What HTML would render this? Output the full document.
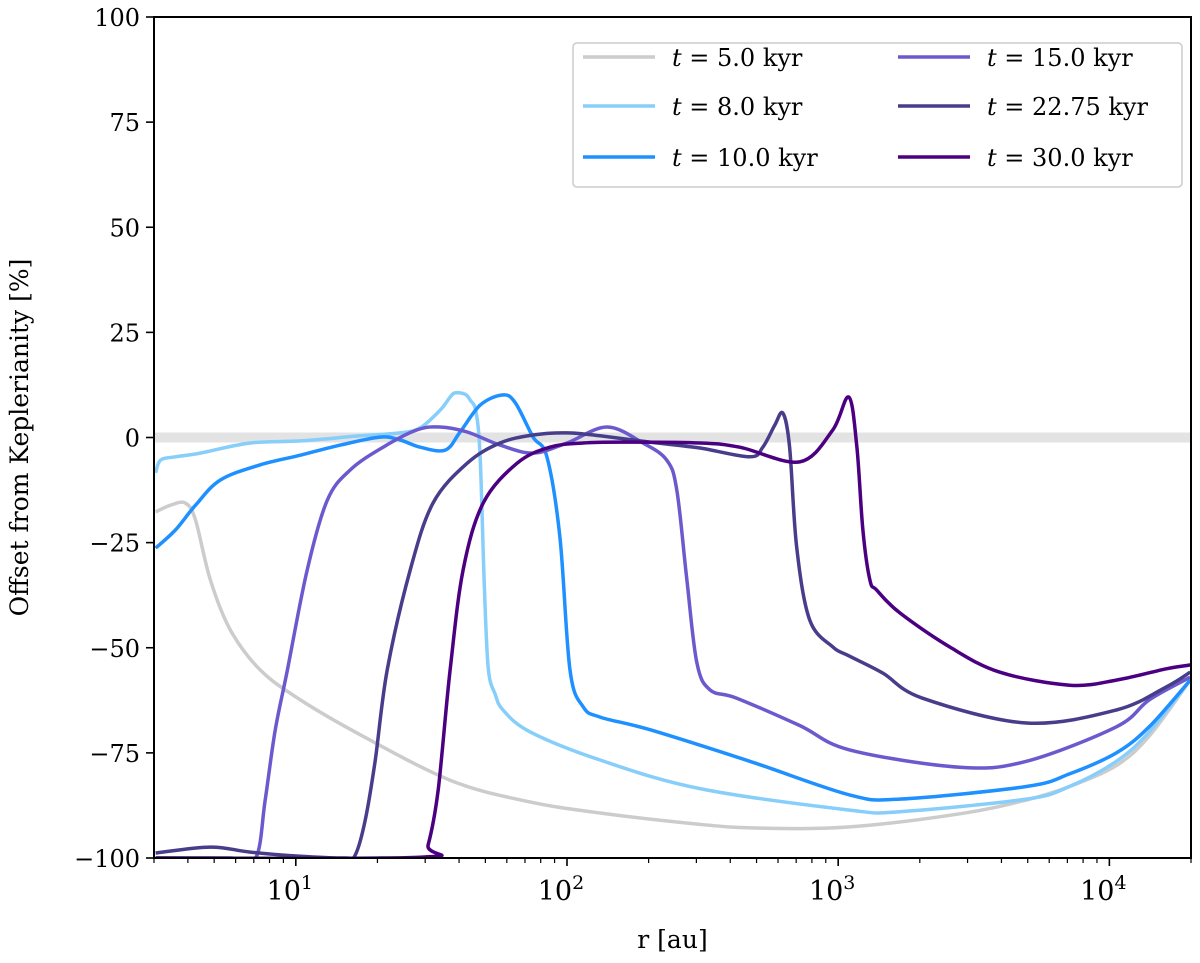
<!DOCTYPE html>
<html><head><meta charset="utf-8"><style>
body{margin:0;background:#fff;}
svg text{font-family:"DejaVu Serif","Liberation Serif",serif;fill:#000;}
</style></head><body>
<svg id="chart" width="1200" height="958" viewBox="0 0 1200 958" xmlns="http://www.w3.org/2000/svg"></svg>
<script>
const xTicksMajor=[1,2,3,4];
const yTicks=[-100,-75,-50,-25,0,25,50,75,100];
const seriesLabels=["5.0","8.0","10.0","15.0","22.75","30.0"];
const seriesColors=["#cccccc","#87cefa","#1e90ff","#6a5acd","#483d8b","#4b0082"];
const logR_t5=[0.483,0.538,0.593,0.630,0.685,0.759,0.869,1.017,1.238,1.569,1.850,2.122,2.490,2.711,3.042,3.448,3.694,3.853,4.026,4.147,4.298];
const val_t5=[-17.7,-16.1,-15.6,-19.6,-33.9,-45.8,-55.3,-62.4,-70.7,-81.5,-86.5,-89.3,-92.0,-92.9,-92.6,-89.5,-86.2,-83.0,-78.0,-71.0,-57.7];
const logR_t8=[0.483,0.501,0.556,0.648,0.832,1.017,1.238,1.385,1.459,1.532,1.569,1.587,1.624,1.643,1.665,1.680,1.695,1.710,1.735,1.764,1.864,2.122,2.490,3.042,3.227,3.694,3.853,4.026,4.147,4.298];
const val_t8=[-8.4,-5.4,-4.6,-3.7,-1.3,-0.8,0.4,1.1,2.3,6.5,9.6,10.6,10.3,8.9,6.0,-5.0,-35.0,-55.0,-61.0,-64.8,-70.0,-76.7,-83.5,-88.6,-89.0,-86.0,-83.0,-77.0,-70.0,-57.7];
const logR_t10=[0.483,0.556,0.630,0.722,0.869,1.017,1.164,1.311,1.385,1.459,1.551,1.606,1.680,1.761,1.808,1.875,1.926,1.974,2.011,2.059,2.122,2.306,2.674,3.042,3.227,3.694,3.853,4.026,4.147,4.298];
const val_t10=[-26.3,-22.0,-16.1,-10.1,-6.5,-4.2,-1.8,0.1,-0.6,-2.3,-3.0,1.3,7.7,10.1,8.4,0.1,-4.6,-23.7,-55.3,-64.0,-66.5,-69.5,-77.0,-85.0,-86.0,-83.0,-80.0,-75.0,-68.8,-57.7];
const logR_t15=[0.483,0.759,0.852,0.887,0.924,0.969,1.042,1.116,1.201,1.322,1.447,1.532,1.632,1.753,1.875,2.000,2.147,2.280,2.368,2.405,2.442,2.479,2.527,2.626,2.858,3.042,3.448,3.694,4.026,4.147,4.298];
const val_t15=[-100,-100,-100,-86.2,-69.6,-55.3,-31.5,-14.9,-7.7,-2.3,1.8,2.5,1.3,-1.8,-3.7,-1.3,2.5,-1.3,-5.4,-12.5,-33.9,-53.6,-60.0,-62.0,-68.5,-74.3,-78.4,-77.0,-68.8,-62.4,-57.0];
const logR_t22=[0.483,0.685,0.832,1.017,1.182,1.219,1.256,1.293,1.337,1.422,1.506,1.632,1.753,1.875,2.000,2.122,2.306,2.490,2.674,2.722,2.766,2.796,2.821,2.847,2.895,2.980,3.042,3.164,3.311,3.694,4.026,4.210,4.298];
const val_t22=[-98.8,-97.4,-98.6,-99.6,-100,-99.3,-91.0,-76.7,-55.3,-31.5,-15.6,-6.1,-1.3,0.6,1.1,0.4,-1.1,-2.5,-4.6,-2.3,2.9,5.8,-2.3,-26.1,-43.4,-49.8,-52.0,-56.0,-62.0,-67.9,-64.8,-59.3,-55.8];
const logR_t30=[0.483,1.459,1.488,1.525,1.569,1.617,1.691,1.816,1.937,2.059,2.195,2.490,2.637,2.858,2.980,3.039,3.069,3.091,3.117,3.142,3.227,3.411,3.595,3.853,4.026,4.210,4.298];
const val_t30=[-100,-99.8,-96.9,-83.8,-55.3,-31.5,-15.6,-6.1,-2.3,-1.3,-1.1,-1.3,-2.3,-5.8,1.8,9.6,-2.3,-22.0,-33.9,-36.3,-41.7,-49.8,-55.8,-58.9,-57.7,-55.0,-54.1];

const svg=document.getElementById('chart');
const NS='http://www.w3.org/2000/svg';
const L=154,R=1191,T=17,B=858;
const xMinL=Math.log10(3),xMaxL=Math.log10(2e4);
function xs(logr){return L+(logr-xMinL)/(xMaxL-xMinL)*(R-L);}
function ys(v){return B-(v+100)/200*(B-T);}
function mk(tag,attrs){const e=document.createElementNS(NS,tag);for(const k in attrs)e.setAttribute(k,attrs[k]);svg.appendChild(e);return e;}

const defs=document.createElementNS(NS,'defs');
defs.innerHTML='<clipPath id="clip"><rect x="'+L+'" y="'+T+'" width="'+(R-L)+'" height="'+(B-T)+'"/></clipPath>';
svg.appendChild(defs);

const zl=mk('line',{x1:L,x2:R,y1:ys(0),y2:ys(0),stroke:'#e3e3e3','stroke-width':10});



function smooth(pts){
  let d='M'+pts[0][0].toFixed(1)+','+pts[0][1].toFixed(1);
  for(let i=0;i<pts.length-1;i++){
    const p0=pts[Math.max(0,i-1)],p1=pts[i],p2=pts[i+1],p3=pts[Math.min(pts.length-1,i+2)];
    const c1x=p1[0]+(p2[0]-p0[0])/6,c1y=p1[1]+(p2[1]-p0[1])/6;
    const c2x=p2[0]-(p3[0]-p1[0])/6,c2y=p2[1]-(p3[1]-p1[1])/6;
    d+='C'+c1x.toFixed(1)+','+c1y.toFixed(1)+' '+c2x.toFixed(1)+','+c2y.toFixed(1)+' '+p2[0].toFixed(1)+','+p2[1].toFixed(1);
  }
  return d;
}
const allR=[logR_t5,logR_t8,logR_t10,logR_t15,logR_t22,logR_t30];
const allV=[val_t5,val_t8,val_t10,val_t15,val_t22,val_t30];
const names=['line-t5','line-t8','line-t10','line-t15','line-t22-75','line-t30'];
for(let s=0;s<6;s++){
  const pts=allR[s].map((lr,i)=>[xs(lr),ys(allV[s][i])]);
  const p=mk('path',{d:smooth(pts),fill:'none',stroke:seriesColors[s],'stroke-width':3.5,'stroke-linejoin':'round','clip-path':'url(#clip)'});
  
  
}

const fr=mk('rect',{x:L,y:T,width:R-L,height:B-T,fill:'none',stroke:'#000','stroke-width':2});



for(let d=0;d<=4;d++){
  for(let m=1;m<10;m++){
    const lr=d+Math.log10(m);
    if(lr<xMinL-1e-9||lr>xMaxL+1e-9)continue;
    const x=xs(lr);
    const tk=mk('line',{x1:x,x2:x,y1:B,y2:B+(m===1?8:5),stroke:'#000','stroke-width':m===1?1.6:1.2});
    
    
  }
}
xTicksMajor.forEach(p=>{
  const t=mk('text',{x:xs(p)-6,y:B+42,'font-size':27,'text-anchor':'middle'});
  t.innerHTML='10<tspan dy="-11" font-size="19">'+p+'</tspan>';
  
  
});
yTicks.forEach(v=>{
  const y=ys(v);
  const tk=mk('line',{x1:L-8,x2:L,y1:y,y2:y,stroke:'#000','stroke-width':1.6});
  
  
  const t=mk('text',{x:L-14,y:y+9,'font-size':24,'text-anchor':'end'});
  t.textContent=v<0?'\u2212'+(-v):String(v);
  
  
});
const xt=mk('text',{x:(L+R)/2,y:948,'font-size':25,'text-anchor':'middle'});
xt.textContent='r [au]';


const yt=mk('text',{x:0,y:0,'font-size':25,'text-anchor':'middle',transform:'translate(28,'+ys(0)+') rotate(-90)'});
yt.textContent='Offset from Keplerianity [%]';



const lg=mk('rect',{x:573,y:43,width:609,height:144,rx:4,fill:'#fff',stroke:'#cccccc','stroke-width':1.5,'fill-opacity':0.85});


const rowsY=[57,106,157];
for(let s=0;s<6;s++){
  const col=Math.floor(s/3),row=s%3;
  const x0=col===0?583:898,y=rowsY[row];
  const ln=mk('line',{x1:x0,x2:x0+72,y1:y,y2:y,stroke:seriesColors[s],'stroke-width':3.5});
  
  
  const t=mk('text',{x:x0+89,y:y+9,'font-size':24});
  t.innerHTML='<tspan font-style="italic">t</tspan> = '+seriesLabels[s]+' kyr';
  
  
}
</script>
</body></html>
